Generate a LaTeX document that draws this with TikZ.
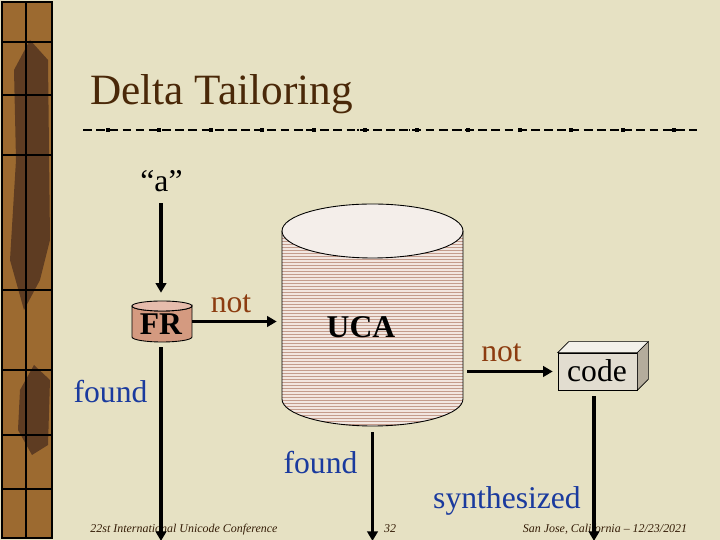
\documentclass[tikz,border=0pt]{standalone}
\usepackage{fontspec}
\setmainfont{Liberation Serif}
\usetikzlibrary{arrows.meta, positioning, fit}

\definecolor{paper}{HTML}{E6E1C3}
\definecolor{strip}{HTML}{9C6A30}
\definecolor{stripdark}{HTML}{5E3C22}
\definecolor{titlebrown}{HTML}{4A2808}
\definecolor{notbrown}{HTML}{8C3C10}
\definecolor{foundblue}{HTML}{1A3A9E}
\definecolor{frbody}{HTML}{D49A80}
\definecolor{frtop}{HTML}{E6BCAC}
\definecolor{ucabg}{HTML}{F2E6E0}
\definecolor{ucaline}{HTML}{C49C8C}
\definecolor{ucatop}{HTML}{F4EEEA}
\definecolor{codefront}{HTML}{E2DDD0}
\definecolor{codetop}{HTML}{F3F1EA}
\definecolor{codeside}{HTML}{B4AC9C}

\begin{document}
\begin{tikzpicture}[x=0.02cm, y=0.02cm]
\tikzstyle{every node}+=[inner sep=0pt]
\tikzset{
  flow/.style={black, line width=2.2pt, -{Triangle[length=5.5pt,width=6pt]}},
  word/.style={font=\fontsize{18}{20}\selectfont, anchor=base},
  bword/.style={word, font=\fontsize{18}{20}\selectfont\bfseries},
  foot/.style={font=\fontsize{6.8}{8}\selectfont\itshape, anchor=base, text=titlebrown!70!black}
}
% page
\fill [paper] (0,0) rectangle (720,540);
\useasboundingbox (0,0) rectangle (720,540);
% left strip
\fill [strip] (2,2) rectangle (52,538);
\fill [stripdark] (14,470) -- (30,500) -- (48,480) -- (50,300) -- (40,260) -- (24,230) -- (10,280) -- (16,380) -- cycle;
\fill [stripdark] (20,150) -- (34,175) -- (50,160) -- (48,95) -- (32,85) -- (18,110) -- cycle;
\foreach \y in {498,445,385,250,170,105,51}
  \draw [black, line width=0.6pt] (2,\y) -- (52,\y);
\draw [black, line width=0.6pt] (26,2) -- (26,538);
\draw [black, line width=1.4pt] (2,2) rectangle (52,538);
% title
\node [anchor=base west, font=\fontsize{24.6}{28}\selectfont, text=titlebrown] (title) at (90,435) {Delta Tailoring};
\draw [black, line width=0.7pt, dash pattern=on 5pt off 2.5pt] (83,410) -- (697,410);
\foreach \i in {0,...,11} {
  \fill [black] ({107.7+51.5*\i-2},408) rectangle +(4,4);
  \fill [black] ({107.7+51.5*\i-8},409.3) rectangle +(1.5,1.5);
}
% footer
\node [foot] (conf) at (184,7) {22st International Unicode Conference};
\node [foot] (page) at (390,7) {32};
\node [foot] (place) at (605,7) {San Jose, California -- 12/23/2021};
% input
\node [word] (quote) at (161.5,348) {“a”};
% FR cylinder
\node [fit={(132,198) (192,239)}] (fr) {};
\draw [black, fill=frbody, line width=0.5pt] (132,234) -- (132,203) arc (180:360:0.6cm and 0.1cm) -- (192,234) arc (0:-180:0.6cm and 0.1cm) -- cycle;
\draw [black, fill=frtop, line width=0.5pt] (162,234) ellipse (0.6cm and 0.1cm);
\node [bword] (frtext) at (161,205) {FR};
% UCA cylinder
\node [fit={(282,114) (463,336)}] (uca) {};
\fill [ucabg] (282,309) -- (282,141) arc (180:360:1.81cm and 0.54cm) -- (463,309) arc (0:-180:1.81cm and 0.54cm) -- cycle;
\begin{scope}
\clip (282,309) -- (282,141) arc (180:360:1.81cm and 0.54cm) -- (463,309) arc (0:-180:1.81cm and 0.54cm) -- cycle;
\foreach \y in {113,116,...,310}
  \draw [ucaline, line width=0.55pt] (282,\y) -- (463,\y);
\end{scope}
\draw [black, line width=0.5pt] (282,309) -- (282,141) arc (180:360:1.81cm and 0.54cm) -- (463,309);
\draw [black, fill=ucatop, line width=0.5pt] (372.5,309) ellipse (1.81cm and 0.54cm);
\node [bword] (ucatext) at (361,202) {UCA};
% code box
\node [draw=black, fill=codefront, line width=0.4pt, minimum width=1.58cm, minimum height=0.74cm] (code) at (597.5,168.5) {};
\draw [black, fill=codetop, line width=0.4pt] (code.north west) -- ++(11,11) -- ([shift={(11,11)}]code.north east) -- (code.north east) -- cycle;
\draw [black, fill=codeside, line width=0.4pt] (code.north east) -- ++(11,11) -- ([shift={(11,11)}]code.south east) -- (code.south east) -- cycle;
\node [word] (codetext) at (597,158) {code};
% labels
\node [word, text=notbrown] (notfr) at (231,227) {not};
\node [word, text=notbrown] (notuca) at (501.5,178) {not};
\node [word, text=foundblue] (foundfr) at (110.5,137) {found};
\node [word, text=foundblue] (founduca) at (320.5,66) {found};
\node [word, text=foundblue] (synth) at (507,31) {synthesized};
% ends
\coordinate (frend) at (161,-1);
\coordinate (ucaend) at (372.5,-1);
\coordinate (codeend) at (594,-1);
% flow
\draw [flow, shorten <=6pt, shorten >=4.5pt] (quote.south -| frend) -- (fr.north -| frend);
\draw [flow, shorten >=2.8pt] (fr.east) -- (fr.east -| uca.west);
\draw [flow, shorten <=2.3pt, shorten >=2.8pt] (code.west -| uca.east) -- (code.west);
\draw [flow, shorten <=2.8pt] (fr.south -| frend) -- (frend);
\draw [flow, shorten <=3.4pt] (uca.south) -- (ucaend);
\draw [flow, shorten <=3.4pt] (code.south -| codeend) -- (codeend);
\end{tikzpicture}
\end{document}
